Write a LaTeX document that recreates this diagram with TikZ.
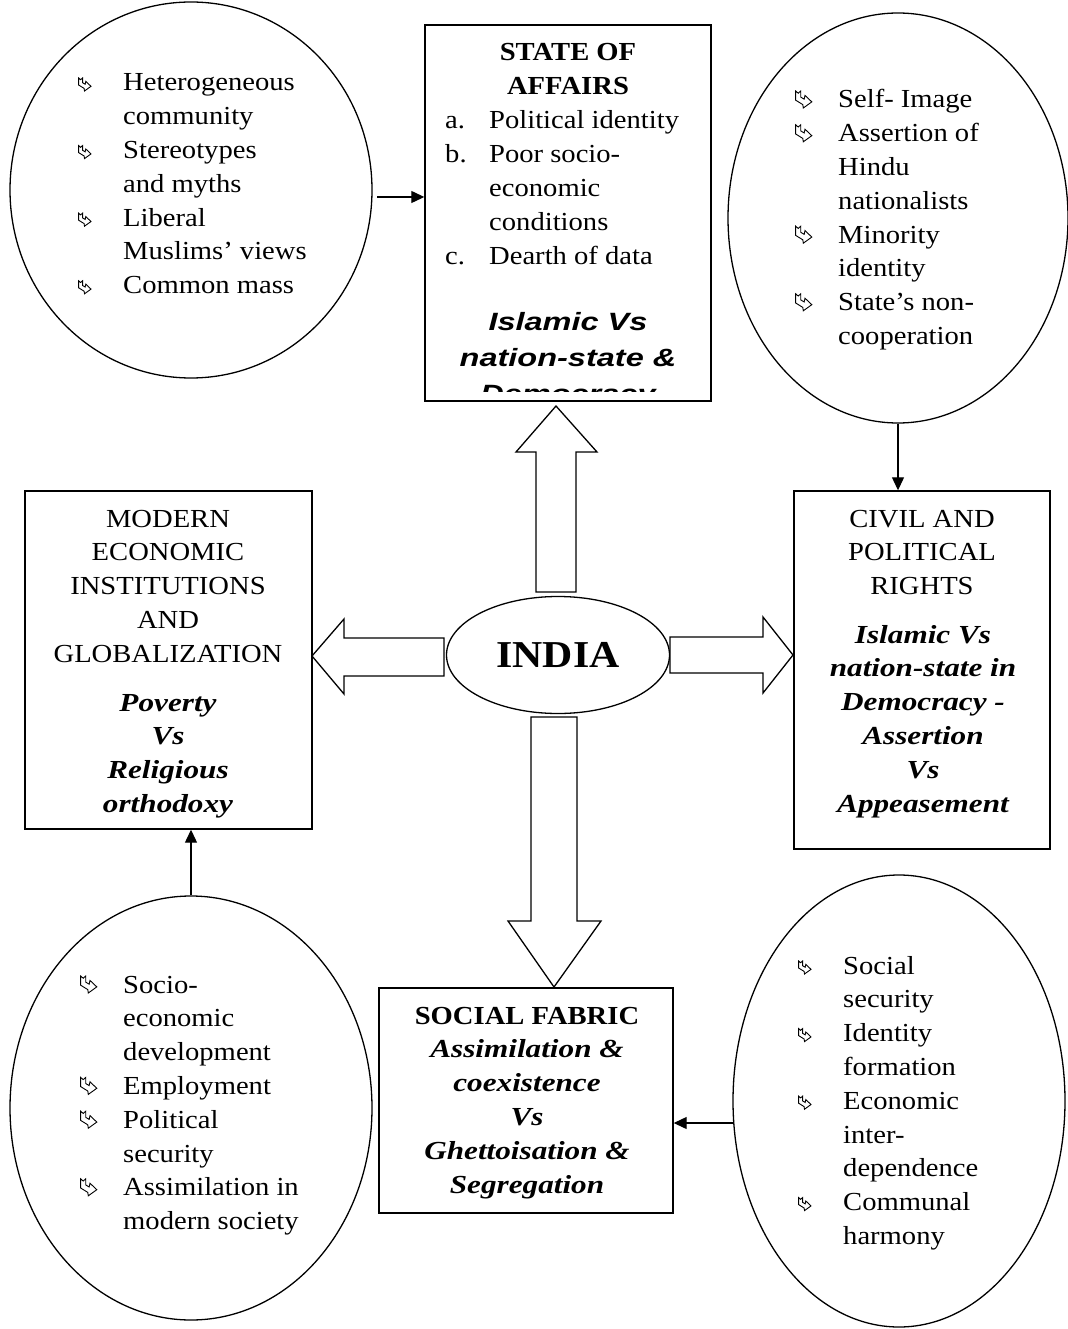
\documentclass[tikz,border=0pt]{standalone}
\usepackage{fontspec}
\setmainfont{Liberation Serif}[FakeStretch=1.1]
\newfontfamily\emfont{Liberation Serif}[FakeStretch=1.2]
\newfontfamily\sansem{Liberation Sans}[FakeStretch=1.3]
\usetikzlibrary{shapes.geometric,arrows.meta}

% hollow bent-arrow bullet with notched tail, #1 = glyph size
\newcommand\hb[1]{\tikz[x=#1,y=#1,baseline=0pt]\draw[line width=0.9pt,line join=miter]
  (0.05,1) -- (0.2,0.87) -- (0.35,1) -- (0.35,0.64) -- (0.55,0.52) -- (0.6,0.74)
  -- (1,0.36) -- (0.5,0) -- (0.47,0.2) -- (0.05,0.46) -- cycle;}
\newcommand\smbul{\makebox[45pt][l]{\hb{13pt}}}
\newcommand\lgbul{\makebox[43pt][l]{\hb{17pt}}}
\newcommand\bodyfont{\fontsize{26}{33.8}\selectfont}
\newcommand\emtext{\emfont\bfseries\itshape}

\begin{document}
\begin{tikzpicture}[x=1pt,y=-1pt,
  every node/.style={inner sep=0pt,font=\bodyfont},
  oval/.style={ellipse,draw,line width=1.3pt},
  box/.style={rectangle,draw,line width=1.4pt},
  arr/.style={line width=1.2pt,-{Triangle[length=13pt,width=12pt]}},
  block/.style={draw,line width=1.3pt,fill=white,line join=miter}]
\useasboundingbox (0,0) rectangle (1067,1329);

% ---------- ovals of contributing factors ----------
\node[oval,minimum width=362,minimum height=376] (cTL) at (191,190) {};
\node[oval,minimum width=340,minimum height=410] (cTR) at (898,218) {};
\node[oval,minimum width=362,minimum height=424] (cBL) at (191,1108) {};
\node[oval,minimum width=332,minimum height=452] (cBR) at (899,1101) {};

% ---------- the four boxes ----------
\node[box,minimum width=286,minimum height=376] (tBox) at (568,213) {};
\node[box,minimum width=287,minimum height=338] (lBox) at (168.5,660) {};
\node[box,minimum width=256,minimum height=358] (rBox) at (922,670) {};
\node[box,minimum width=294,minimum height=225] (bBox) at (526,1100.5) {};

% ---------- centre ----------
\node[oval,minimum width=223,minimum height=117,
      font=\bfseries\fontsize{38}{40}\selectfont] (india) at (558,655) {INDIA};

% ---------- block arrows from the centre ----------
\draw[block] (536,592) -- (536,452) -- (516,452) -- (556,406) -- (597,452) -- (576,452) -- (576,592) -- cycle;
\draw[block] (444,638) -- (344,638) -- (344,619) -- (312,656) -- (344,694) -- (344,676) -- (444,676) -- cycle;
\draw[block] (670,637) -- (763,637) -- (763,617) -- (793,655) -- (763,693) -- (763,673) -- (670,673) -- cycle;
\draw[block] (531,717) -- (531,921) -- (508,921) -- (554,987) -- (601,921) -- (577,921) -- (577,717) -- cycle;

% ---------- connectors ----------
\coordinate (tlOut) at (377,197);
\draw[arr] (tlOut) -- (tBox.west |- tlOut);
\draw[arr] (cTR.south) -- (rBox.north -| cTR.south);
\draw[arr] (cBL.north) -- (lBox.south -| cBL.north);
\coordinate (brOut) at (733,1123);
\draw[arr] (brOut) -- (bBox.east |- brOut);

% ---------- top box ----------
\node[anchor=base,font=\bodyfont\bfseries] (tTitle) at (568,61)
  {\begin{tabular}[t]{@{}c@{}}STATE OF\\AFFAIRS\end{tabular}};
\node[anchor=base west] (tList) at (445,129)
  {\begin{tabular}[t]{@{}l@{}l@{}}
   \makebox[44pt][l]{a.} & Political identity\\
   \makebox[44pt][l]{b.} & Poor socio-\\
   & economic\\
   & conditions\\
   \makebox[44pt][l]{c.} & Dearth of data
   \end{tabular}};
\begin{scope}
  \clip (427,300) rectangle (709,391);
  \node[anchor=base,font={\sansem\bfseries\itshape\fontsize{25}{36}\selectfont}] (tEm) at (568,330)
    {\begin{tabular}[t]{@{}c@{}}Islamic Vs\\nation-state \&\\Democracy\end{tabular}};
\end{scope}

% ---------- left box ----------
\node[anchor=base] (lTitle) at (168,527)
  {\begin{tabular}[t]{@{}c@{}}MODERN\\ECONOMIC\\INSTITUTIONS\\AND\\GLOBALIZATION\end{tabular}};
\node[anchor=base,font=\bodyfont\emtext] (lEm) at (168,711)
  {\begin{tabular}[t]{@{}c@{}}Poverty\\Vs\\Religious\\orthodoxy\end{tabular}};

% ---------- right box ----------
\node[anchor=base] (rTitle) at (922,527)
  {\begin{tabular}[t]{@{}c@{}}CIVIL AND\\POLITICAL\\RIGHTS\end{tabular}};
\node[anchor=base,font=\bodyfont\emtext] (rEm) at (923,643)
  {\begin{tabular}[t]{@{}c@{}}Islamic Vs\\nation-state in\\Democracy -\\Assertion\\Vs\\Appeasement\end{tabular}};

% ---------- bottom box ----------
\node[anchor=base] (bText) at (527,1024)
  {\begin{tabular}[t]{@{}c@{}}\bfseries SOCIAL FABRIC\\
   \emtext Assimilation \&\\ \emtext coexistence\\ \emtext Vs\\
   \emtext Ghettoisation \&\\ \emtext Segregation\end{tabular}};

% ---------- bullet lists in the ovals ----------
\node[anchor=base west] (tlList) at (78,91)
  {\begin{tabular}[t]{@{}l@{}l@{}}
   \smbul & Heterogeneous\\ & community\\
   \smbul & Stereotypes\\ & and myths\\
   \smbul & Liberal\\ & Muslims’ views\\
   \smbul & Common mass
   \end{tabular}};
\node[anchor=base west] (trList) at (795,108)
  {\begin{tabular}[t]{@{}l@{}l@{}}
   \lgbul & Self- Image\\
   \lgbul & Assertion of\\ & Hindu\\ & nationalists\\
   \lgbul & Minority\\ & identity\\
   \lgbul & State’s non-\\ & cooperation
   \end{tabular}};
\node[anchor=base west] (blList) at (80,993)
  {\begin{tabular}[t]{@{}l@{}l@{}}
   \lgbul & Socio-\\ & economic\\ & development\\
   \lgbul & Employment\\
   \lgbul & Political\\ & security\\
   \lgbul & Assimilation in\\ & modern society
   \end{tabular}};
\node[anchor=base west] (brList) at (798,974)
  {\begin{tabular}[t]{@{}l@{}l@{}}
   \smbul & Social\\ & security\\
   \smbul & Identity\\ & formation\\
   \smbul & Economic\\ & inter-\\ & dependence\\
   \smbul & Communal\\ & harmony
   \end{tabular}};
\end{tikzpicture}
\end{document}
